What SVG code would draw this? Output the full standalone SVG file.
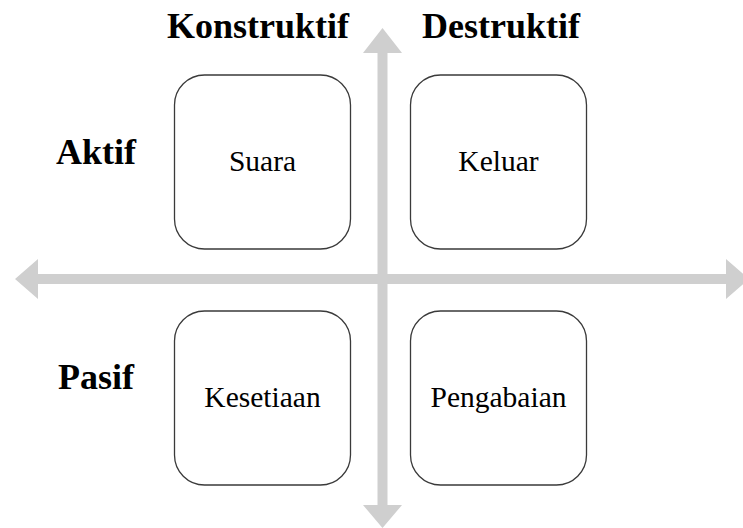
<svg xmlns="http://www.w3.org/2000/svg" width="743" height="528" viewBox="0 0 743 528">
<style>
.box{fill:#fff;stroke:#3a3a3a;stroke-width:1.3}
.lbl{font-family:"Liberation Serif","Times New Roman",serif;font-size:29.5px;fill:#000;text-anchor:middle}
.hdr{font-family:"Liberation Serif","Times New Roman",serif;font-size:36px;font-weight:bold;fill:#000;text-anchor:middle}
.axis{fill:#cfcfcf}
</style>
<rect width="743" height="528" fill="#fff"/>
<g id="connectors">
<polygon class="axis" points="382.5,28 402,53 387.5,53 387.5,505 402,505 382.5,528 363,505 377.5,505 377.5,53 363,53"/>
<polygon class="axis" points="15,279 38,259 38,274 726,274 726,259 749,279 726,299 726,284 38,284 38,299"/>
</g>
<g id="header-konstruktif"><text class="hdr" x="258" y="38">Konstruktif</text></g>
<g id="header-destruktif"><text class="hdr" x="501" y="38">Destruktif</text></g>
<g id="row-aktif"><text class="hdr" x="96" y="164">Aktif</text></g>
<g id="row-pasif"><text class="hdr" x="96" y="389">Pasif</text></g>
<g id="suara"><rect class="box" x="174.5" y="75" width="176" height="174" rx="30"/><text class="lbl" x="262.5" y="171">Suara</text></g>
<g id="keluar"><rect class="box" x="410.5" y="75" width="176" height="174" rx="30"/><text class="lbl" x="498.5" y="171">Keluar</text></g>
<g id="kesetiaan"><rect class="box" x="174.5" y="311" width="176" height="174" rx="30"/><text class="lbl" x="262.5" y="407">Kesetiaan</text></g>
<g id="pengabaian"><rect class="box" x="410.5" y="311" width="176" height="174" rx="30"/><text class="lbl" x="498.5" y="407">Pengabaian</text></g>
</svg>
